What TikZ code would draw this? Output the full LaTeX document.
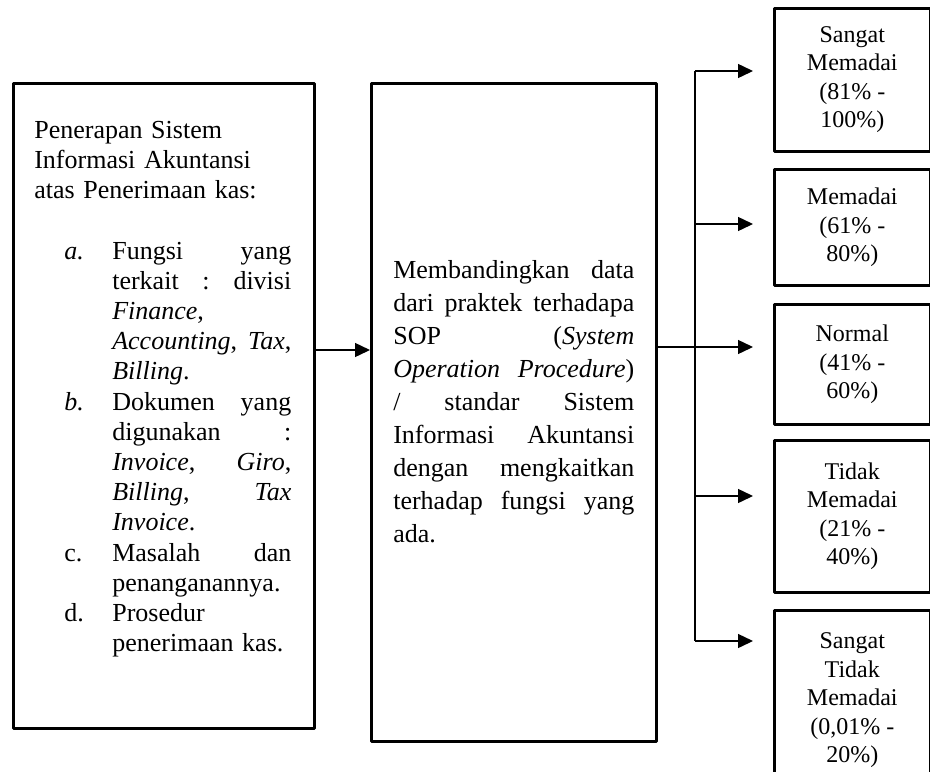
\documentclass[tikz,border=0pt]{standalone}
\usepackage{fontspec}
\setmainfont{Liberation Serif}
\usetikzlibrary{arrows.meta}

\newcommand{\jline}[2][89.5pt]{\leavevmode\hbox to #1{\spaceskip=3pt plus 1fil\xspaceskip=3pt plus 1fil\relax #2}}
\newcommand{\rline}[1]{\makebox[89.5pt][l]{#1}}
\newcommand{\lbl}[1]{\hspace*{15pt}\makebox[24pt][l]{#1}}

\begin{document}
\begin{tikzpicture}[x=0.5pt, y=-0.5pt, font=\fontsize{12}{14.25}\selectfont, line join=round,
    >={Triangle[length=7.5pt,width=7pt]},
    kotak/.style={draw, line width=1.3pt, anchor=north west, inner ysep=0pt, align=left},
    hasil/.style={draw, line width=1.3pt, anchor=north west, align=center, minimum width=78pt, inner sep=0pt},
    panah/.style={->, line width=0.7pt}]
\useasboundingbox (0,0) rectangle (930,771);
% kotak penerapan
\node[kotak, font=\fontsize{13}{15.1}\selectfont, inner xsep=10.5pt, text width=129.5pt,
      text height=27.5pt, text depth=295pt] (penerapan) at (12,82)
  {Penerapan Sistem\\ Informasi Akuntansi\\ atas Penerimaan kas:\\[15.1pt]
   \lbl{\textit{a.}}\jline{Fungsi yang}\\
   \lbl{}\jline{terkait : divisi}\\
   \lbl{}\rline{\textit{Finance},}\\
   \lbl{}\jline{\textit{Accounting}, \textit{Tax},}\\
   \lbl{}\rline{\textit{Billing}.}\\
   \lbl{\textit{b.}}\jline{Dokumen yang}\\
   \lbl{}\jline{digunakan :}\\
   \lbl{}\jline{\textit{Invoice}, \textit{Giro},}\\
   \lbl{}\jline{\textit{Billing}, \textit{Tax}}\\
   \lbl{}\rline{\textit{Invoice}.}\\
   \lbl{c.}\jline{Masalah dan}\\
   \lbl{}\rline{penanganannya.}\\
   \lbl{d.}\rline{Prosedur}\\
   \lbl{}\rline{penerimaan kas.}};
% kotak membandingkan
\node[kotak, font=\fontsize{13}{16.5}\selectfont, inner xsep=11pt, text width=120.5pt,
      text height=97.5pt, text depth=231.5pt] (banding) at (370,82)
  {\jline[120.5pt]{Membandingkan data}\\
   \jline[120.5pt]{dari praktek terhadapa}\\
   \jline[120.5pt]{SOP (\textit{System}}\\
   \jline[120.5pt]{\textit{Operation Procedure})}\\
   \jline[120.5pt]{/ standar Sistem}\\
   \jline[120.5pt]{Informasi Akuntansi}\\
   \jline[120.5pt]{dengan mengkaitkan}\\
   \jline[120.5pt]{terhadap fungsi yang}\\
   ada.};
% kotak hasil
\node[hasil, minimum height=71.5pt] (sm) at (773,7) {Sangat\\ Memadai\\ (81\% -\\ 100\%)};
\node[hasil, minimum height=58pt] (m) at (773,168) {Memadai\\ (61\% -\\ 80\%)};
\node[hasil, minimum height=60pt] (n) at (773,303) {Normal\\ (41\% -\\ 60\%)};
\node[hasil, minimum height=76pt] (tm) at (773,439) {Tidak\\ Memadai\\ (21\% -\\ 40\%)};
\node[hasil, minimum height=90pt] (stm) at (773,609) {Sangat\\ Tidak\\ Memadai\\ (0,01\% -\\ 20\%)};
% panah
\coordinate (masuk) at (0,350);
\coordinate (cabang) at (695,347);
\draw[panah] (penerapan.east |- masuk) -- (banding.west |- masuk);
\draw[line width=0.7pt] (banding.east |- cabang) -- (cabang);
\draw[line width=0.7pt] (695,71) -- (695,641);
\foreach \b/\y in {sm/71,m/224,n/347,tm/496,stm/641}
  \draw[panah, shorten >=10pt] (695,\y) -- (\b.west |- 0,\y);
\end{tikzpicture}
\end{document}
